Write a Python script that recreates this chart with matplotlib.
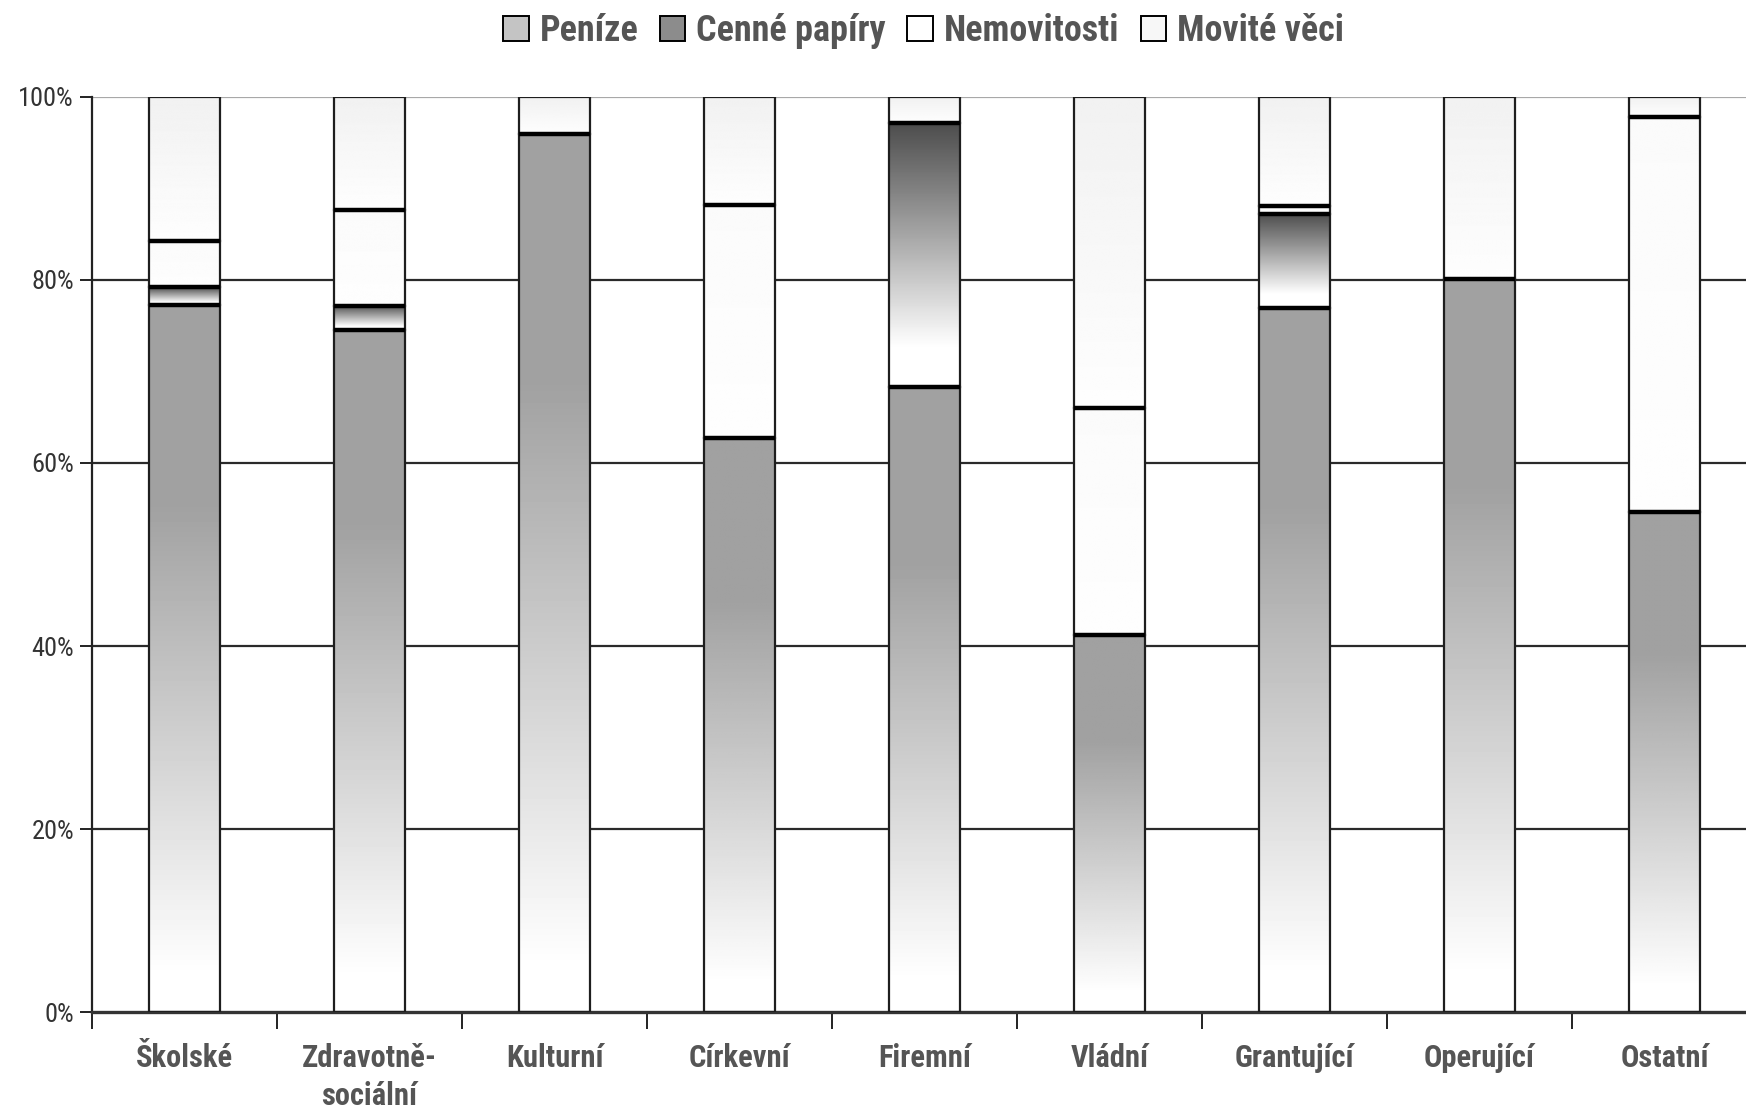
import numpy as np
import matplotlib
matplotlib.use('Agg')
import matplotlib.pyplot as plt
from matplotlib import font_manager
from matplotlib.patches import Rectangle, Patch

#%% DATA (podíly v %)

kategorie = ['Školské', 'Zdravotně-\nsociální', 'Kulturní', 'Církevní', 'Firemní',
             'Vládní', 'Grantující', 'Operující', 'Ostatní']
serie = ['Peníze', 'Cenné papíry', 'Nemovitosti', 'Movité věci']

penize      = [77.3, 74.5, 96.0, 62.7, 68.3, 41.2, 76.9, 80.1, 54.6]
cenne_pap   = [ 1.9,  2.7,  0.0,  0.0, 28.9,  0.0, 10.3,  0.0,  0.0]
nemovitosti = [ 5.1, 10.5,  0.0, 25.5,  0.0, 24.8,  0.9,  0.0, 43.2]
movite      = [15.7, 12.3,  4.0, 11.8,  2.8, 34.0, 11.9, 19.9,  2.2]

y_ticks = [0, 20, 40, 60, 80, 100]
y_labels = ['0%', '20%', '40%', '60%', '80%', '100%']

#%% FONTS

dostupne = {f.name for f in font_manager.fontManager.ttflist}
narrow = 'DejaVu Sans'
for kand in ['Liberation Sans Narrow', 'DejaVu Sans Condensed', 'Roboto Condensed', 'Liberation Sans']:
    if kand in dostupne:
        narrow = kand
        break
plt.rcParams['font.family'] = [narrow, 'DejaVu Sans']

#%% GRADIENTS (t=0 dole, t=1 nahore)

def grad_penize(t):
    return np.where(t >= 0.72, 0.63, np.where(t <= 0.05, 1.0, 1.0 - 0.37*(t-0.05)/0.67))

def grad_cenne(t):
    return np.where(t <= 0.15, 1.0, 1.0 - 0.70*(t-0.15)/0.85)

def grad_nemov(t):
    return 0.995 - 0.012*t

def grad_movite(t):
    return 0.995 - 0.05*t

gradienty = [grad_penize, grad_cenne, grad_nemov, grad_movite]
data = [penize, cenne_pap, nemovitosti, movite]

#%% PLOT

fig = plt.figure(figsize=(17.46, 11.12), dpi=100)
ax = fig.add_axes([0.0527, 0.0899, 0.9536, 0.8229])

x = np.arange(len(kategorie))
w = 0.385
tt = np.linspace(0, 1, 200)[:, None]

ax.set_xlim(-0.5, len(kategorie) - 0.5)
ax.set_ylim(0, 100)

# grid
for yv in y_ticks[1:-1]:
    ax.axhline(yv, color='#2a2a2a', lw=1.6, zorder=0)
ax.axhline(100, color='#a8a8a8', lw=1.6, zorder=0)

spodek = np.zeros(len(kategorie))
for hodnoty, gfun in zip(data, gradienty):
    hodnoty = np.array(hodnoty)
    for i in range(len(kategorie)):
        h = hodnoty[i]
        if h <= 0:
            continue
        y0 = spodek[i]
        y1 = y0 + h
        img = np.repeat(gfun(tt), 2, axis=1)
        ax.imshow(img, cmap='gray', vmin=0, vmax=1, origin='lower',
                  extent=(x[i]-w/2, x[i]+w/2, y0, y1), aspect='auto',
                  interpolation='bilinear', zorder=2)
        ax.add_patch(Rectangle((x[i]-w/2, y0), w, h, fill=False,
                               edgecolor='#1e1e1e', lw=1.6, zorder=3))
        if y1 < 99.9:
            ax.plot([x[i]-w/2, x[i]+w/2], [y1, y1], color='black', lw=3.2,
                    solid_capstyle='butt', zorder=4)
    spodek = spodek + hodnoty

ax.set_aspect('auto')

# osy
for s in ['top', 'right']:
    ax.spines[s].set_visible(False)
ax.spines['left'].set_color('#222222')
ax.spines['left'].set_linewidth(1.6)
ax.spines['bottom'].set_color('#333333')
ax.spines['bottom'].set_linewidth(2.4)

ax.set_yticks(y_ticks)
ax.set_yticklabels(y_labels, fontsize=19, color='#333333')
ax.tick_params(axis='y', length=9, width=1.4, color='#222222', pad=4)

ax.set_xticks(x)
ax.set_xticklabels(kategorie, fontsize=22, fontweight='bold', color='#555555',
                   linespacing=1.35)
ax.tick_params(axis='x', which='major', length=0, pad=22)
ax.set_xticks(np.arange(len(kategorie)) - 0.5, minor=True)
ax.tick_params(axis='x', which='minor', length=12, width=1.4, color='#222222')

# legenda
barvy_leg = ['#c4c4c4', '#8c8c8c', '#ffffff', '#f7f7f7']
handles = [Patch(facecolor=c, edgecolor='black', lw=1.4) for c in barvy_leg]
fig.legend(handles, serie, loc='center', bbox_to_anchor=(0.529, 0.972), ncol=4,
           frameon=False, handlelength=0.7, handleheight=0.7, handletextpad=0.3,
           columnspacing=0.6, prop={'size': 26, 'weight': 'bold'},
           labelcolor='#555555')

fig.savefig('out.png', dpi=100)
